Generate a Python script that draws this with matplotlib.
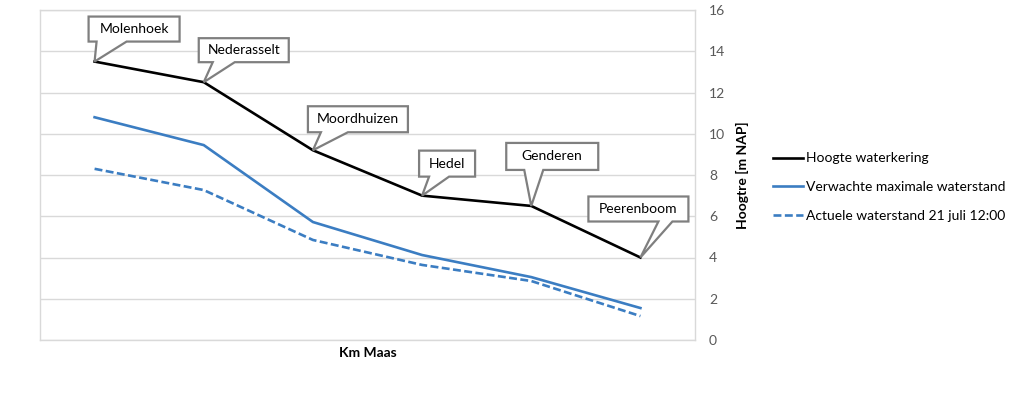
import numpy as np
import matplotlib
matplotlib.use("Agg")
from matplotlib import pyplot as plt
from matplotlib import transforms
from matplotlib.patches import Polygon

plt.rcParams['font.family'] = ['Lato', 'DejaVu Sans']

# data
places = ['Molenhoek', 'Nederasselt', 'Moordhuizen', 'Hedel', 'Genderen', 'Peerenboom']
waterkering = [13.5, 12.5, 9.2, 7.0, 6.5, 4.0]
verwacht = [10.8, 9.45, 5.72, 4.12, 3.05, 1.55]
actueel = [8.3, 7.27, 4.85, 3.64, 2.86, 1.16]
yticks = [0, 2, 4, 6, 8, 10, 12, 14, 16]

# callout boxes in pixels relative to the point (left, right, top, bottom, base1, base2), y downward
callouts = [
    (-6, 85, -45, -20, 2, 32),
    (-5, 85, -44, -20, 9, 31),
    (-5, 95, -44, -18, 8, 35),
    (-3, 53, -45, -19, 7, 27),
    (-25, 67, -63, -36, -7, 12),
    (-52, 48, -61, -36, 18, 32),
]

blue = '#3b7dc2'
grid = '#d9d9d9'

fig = plt.figure(figsize=(10.24, 3.99), dpi=100)
ax = fig.add_axes([40 / 1024, 59 / 399, 655 / 1024, 330 / 399])

x = np.arange(len(places))
ax.plot(x, waterkering, color='black', lw=1.9, label='Hoogte waterkering', zorder=3)
ax.plot(x, verwacht, color=blue, lw=1.9, label='Verwachte maximale waterstand', zorder=3)
ax.plot(x, actueel, color=blue, lw=1.9, ls=(0, (3, 1.3)), label='Actuele waterstand 21 juli 12:00', zorder=3)

ax.set_xlim(-0.5, len(places) - 0.5)
ax.set_ylim(0, 16)
ax.set_xticks([])
ax.set_yticks(yticks)
ax.yaxis.tick_right()
ax.yaxis.set_label_position('right')
ax.tick_params(axis='y', length=0, pad=10, labelsize=10, labelcolor='#595959')
ax.grid(axis='y', color=grid, lw=1)
ax.set_axisbelow(True)
for s in ax.spines.values():
    s.set_color(grid)
    s.set_linewidth(1)

ax.set_ylabel('Hoogtre [m NAP]', fontsize=10, fontweight='bold', labelpad=8)
ax.set_xlabel('Km Maas', fontsize=10, fontweight='bold', labelpad=5)

# callouts
for i, (name, v) in enumerate(zip(places, waterkering)):
    l, r, t, b, b1, b2 = callouts[i]
    verts = [(l, t), (r, t), (r, b), (b2, b), (0, 0), (b1, b), (l, b)]
    tr = transforms.Affine2D().scale(1, -1) + transforms.ScaledTranslation(i, v, ax.transData)
    poly = Polygon(verts, closed=True, transform=tr, facecolor='white',
                   edgecolor='#7f7f7f', lw=1.6, joinstyle='miter', zorder=5, clip_on=False)
    ax.add_patch(poly)
    ax.annotate(name, xy=(i, v), xytext=((l + r) / 2, -(t + b) / 2), textcoords='offset pixels',
                ha='center', va='center', fontsize=10, zorder=6)

ax.legend(loc='upper left', bbox_to_anchor=(760 / 1024, 1 - 140 / 399), bbox_transform=fig.transFigure,
          frameon=False, fontsize=10, handlelength=2.2, handletextpad=0.2, labelspacing=1.2)

fig.savefig('out.png', dpi=100)
